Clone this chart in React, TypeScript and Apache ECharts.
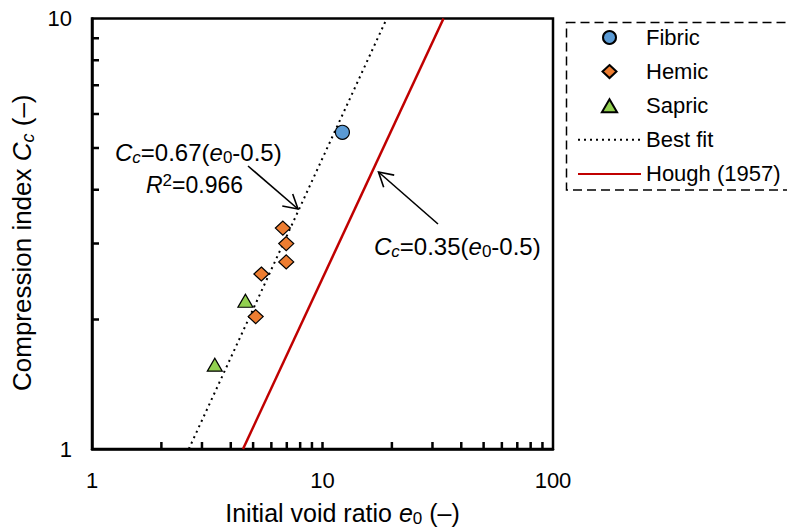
import React, { useEffect, useRef } from 'react';
import * as echarts from 'echarts';

// ---- data ----
const fibricE0 = [12.2];
const fibricCc = [5.44];
const hemicE0 = [6.73, 6.96, 6.96, 5.43, 5.13];
const hemicCc = [3.26, 3.0, 2.72, 2.55, 2.03];
const sapricE0 = [4.63, 3.41];
const sapricCc = [2.21, 1.57];
const bestFitE0 = [2.63, 19.0];
const bestFitCc = [1, 10];
const houghE0 = [4.52, 33.5];
const houghCc = [1, 10];
const xTickValues = [2, 3, 4, 5, 6, 7, 8, 9, 10, 20, 30, 40, 50, 60, 70, 80, 90];
const yTickValues = [2, 3, 4, 5, 6, 7, 8, 9];
const xLabelValues = [1, 10, 100];
const yLabelValues = [1, 10];

const X_MIN = 1;
const X_MAX = 100;
const Y_MIN = 1;
const Y_MAX = 10;

// plot-area geometry (px)
const GRID_LEFT = 92;
const GRID_TOP = 18.5;
const GRID_RIGHT = 234;
const GRID_BOTTOM = 81;
const CHART_W = 787;
const CHART_H = 532;
const TICK_LEN = 7;

const FONT = '"Liberation Sans", Arial, Helvetica, sans-serif';

const zip = (a: number[], b: number[]) => a.map((v, i) => [v, b[i]]);

function richStyles(size: number, subRatio = 0.68) {
  const sub = Math.round(size * subRatio);
  const off = Math.round(size * 0.45);
  return {
    n: { fontSize: size, fontFamily: FONT, color: '#000' },
    i: { fontSize: size, fontFamily: FONT, fontStyle: 'italic', color: '#000' },
    s: { fontSize: sub, fontFamily: FONT, color: '#000', padding: [off, 0, 0, 0] },
    si: { fontSize: sub, fontFamily: FONT, fontStyle: 'italic', color: '#000', padding: [off, 0, 0, 0] },
    sup: { fontSize: sub, fontFamily: FONT, color: '#000', padding: [0, 0, off, 0] },
  };
}

function arrow(x1: number, y1: number, x2: number, y2: number) {
  const ang = Math.atan2(y1 - y2, x1 - x2);
  const L = 16;
  const spread = (30 * Math.PI) / 180;
  const w1 = [x2 + L * Math.cos(ang + spread), y2 + L * Math.sin(ang + spread)];
  const w2 = [x2 + L * Math.cos(ang - spread), y2 + L * Math.sin(ang - spread)];
  const st = { stroke: '#000', lineWidth: 1.6, fill: 'none' };
  return [
    { type: 'line', shape: { x1, y1, x2, y2 }, style: st, silent: true },
    { type: 'polyline', shape: { points: [w1, [x2, y2], w2] }, style: st, silent: true },
  ];
}

// inside tick segments as broken polylines in data space (inward length converted to a log factor)
function tickData() {
  const plotW = CHART_W - GRID_LEFT - GRID_RIGHT;
  const plotH = CHART_H - GRID_TOP - GRID_BOTTOM;
  const yF = Math.pow(Y_MAX / Y_MIN, TICK_LEN / plotH);
  const xF = Math.pow(X_MAX / X_MIN, TICK_LEN / plotW);
  const xt: any[] = [];
  xTickValues.forEach((v) => {
    xt.push([v, Y_MIN], [v, Y_MIN * yF], ['-', '-']);
  });
  const yt: any[] = [];
  yTickValues.forEach((v) => {
    yt.push([X_MIN, v], [X_MIN * xF, v], ['-', '-']);
  });
  return { xt, yt };
}

export default function App() {
  const ref = useRef<HTMLDivElement>(null);
  useEffect(() => {
    document.body.style.margin = '0';
    const chart = echarts.init(ref.current!, null, { renderer: 'svg' });
    const axisCommon = {
      type: 'log',
      logBase: 10,
      axisLine: { show: true, lineStyle: { color: '#000', width: 2.5 } },
      axisTick: { show: false },
      splitLine: { show: false },
    };
    const { xt, yt } = tickData();
    const tickSeries = (name: string, data: any[]) => ({
      name,
      type: 'line',
      data,
      symbol: 'none',
      connectNulls: false,
      clip: false,
      silent: true,
      lineStyle: { color: '#000', width: 2.5, cap: 'butt' },
      z: 6,
    });
    chart.setOption({
      animation: false,
      backgroundColor: '#fff',
      grid: {
        left: GRID_LEFT,
        top: GRID_TOP,
        right: GRID_RIGHT,
        bottom: GRID_BOTTOM,
        show: true,
        borderColor: '#000',
        borderWidth: 2.5,
        containLabel: false,
      },
      xAxis: {
        ...axisCommon,
        min: X_MIN,
        max: X_MAX,
        axisLabel: { customValues: xLabelValues, fontSize: 22, fontFamily: FONT, color: '#000', margin: 20 },
        name: '{n|Initial void ratio }{i|e}{s|0}{n| (–)}',
        nameLocation: 'middle',
        nameGap: 50,
        nameTextStyle: { rich: richStyles(25), padding: [0, 0, 0, 40] },
      },
      yAxis: {
        ...axisCommon,
        min: Y_MIN,
        max: Y_MAX,
        axisLabel: { customValues: yLabelValues, fontSize: 22, fontFamily: FONT, color: '#000', margin: 20 },
        name: '{n|Compression index }{i|C}{si|c}{n| (–)}',
        nameLocation: 'middle',
        nameGap: 42,
        nameTextStyle: { rich: richStyles(26), padding: [0, 18, 0, 0] },
      },
      legend: {
        orient: 'vertical',
        left: 567,
        top: 22.5,
        padding: [4, 10, 6, 10],
        itemWidth: 63,
        itemHeight: 13,
        itemGap: 12.1,
        symbolKeepAspect: true,
        textStyle: { fontSize: 22, fontFamily: FONT, color: '#000' },
        data: [
          { name: 'Fibric' },
          { name: 'Hemic', icon: 'path://M7,0L14,6.5L7,13L0,6.5Z' },
          { name: 'Sapric', icon: 'path://M7,0L14,12L0,12Z' },
          { name: 'Best fit', itemStyle: { opacity: 0 } },
          { name: 'Hough (1957)', itemStyle: { opacity: 0 } },
        ],
      },
      graphic: [
        {
          type: 'rect',
          shape: { x: 566.5, y: 22.5, width: 260, height: 167.5 },
          style: { fill: 'none', stroke: '#000', lineWidth: 1.5, lineDash: [9, 5] },
          silent: true,
        },
        {
          type: 'text',
          x: 115,
          y: 152,
          style: {
            text: '{i|C}{si|c}{n|=0.67(}{i|e}{s|0}{n|-0.5)}',
            rich: richStyles(24, 0.72),
            verticalAlign: 'middle',
            align: 'left',
          },
          silent: true,
        },
        {
          type: 'text',
          x: 146,
          y: 185,
          style: {
            text: '{i|R}{sup|2}{n|=0.966}',
            rich: richStyles(23, 0.72),
            verticalAlign: 'middle',
            align: 'left',
          },
          silent: true,
        },
        {
          type: 'text',
          x: 374,
          y: 246,
          style: {
            text: '{i|C}{si|c}{n|=0.35(}{i|e}{s|0}{n|-0.5)}',
            rich: richStyles(24, 0.72),
            verticalAlign: 'middle',
            align: 'left',
          },
          silent: true,
        },
        ...arrow(248, 166, 298, 209),
        ...arrow(438, 224, 378.5, 172),
      ],
      series: [
        tickSeries('xTicks', xt),
        tickSeries('yTicks', yt),
        {
          name: 'Best fit',
          type: 'line',
          data: zip(bestFitE0, bestFitCc),
          symbol: 'none',
          lineStyle: { color: '#000', width: 2, type: [2, 4], cap: 'butt' },
          itemStyle: { color: '#000', opacity: 0 },
          z: 1,
        },
        {
          name: 'Hough (1957)',
          type: 'line',
          data: zip(houghE0, houghCc),
          symbol: 'none',
          lineStyle: { color: '#C00000', width: 2.5 },
          itemStyle: { color: '#C00000', opacity: 0 },
          z: 1,
        },
        {
          name: 'Fibric',
          type: 'scatter',
          data: zip(fibricE0, fibricCc),
          symbol: 'circle',
          symbolSize: 14,
          itemStyle: { color: '#5B9BD5', borderColor: '#000', borderWidth: 1.2, opacity: 1 },
          z: 3,
        },
        {
          name: 'Hemic',
          type: 'scatter',
          data: zip(hemicE0, hemicCc),
          symbol: 'diamond',
          symbolSize: [15, 14],
          itemStyle: { color: '#ED7D31', borderColor: '#000', borderWidth: 1.2, opacity: 1 },
          z: 3,
        },
        {
          name: 'Sapric',
          type: 'scatter',
          data: zip(sapricE0, sapricCc),
          symbol: 'triangle',
          symbolSize: [15, 13],
          itemStyle: { color: '#92D050', borderColor: '#000', borderWidth: 1.2, opacity: 1 },
          z: 3,
        },
      ],
    });

    return () => chart.dispose();
  }, []);
  return <div ref={ref} style={{ width: CHART_W, height: CHART_H }} />;
}
